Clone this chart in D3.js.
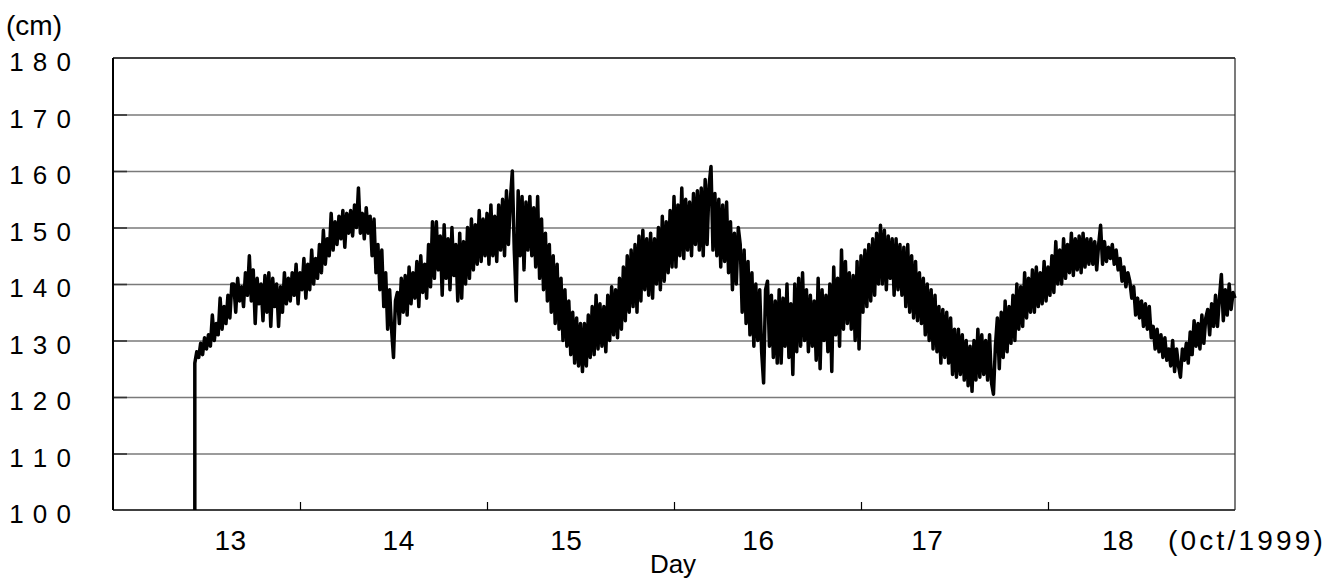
<!DOCTYPE html>
<html>
<head>
<meta charset="utf-8">
<script src="https://cdn.jsdelivr.net/npm/d3@7"></script>
<style>
  html, body { margin: 0; padding: 0; background: #fff; }
  svg { display: block; font-family: "Liberation Sans", Arial, sans-serif; }
</style>
</head>
<body>
<svg id="chart" width="1341" height="587"></svg>
<script>
// Water level record, Oct 13-18 1999, quarter-hourly readings (cm)
const startTime = "1999-10-13 10:30";
const stepMinutes = 15;
const sensorStartLevel = 100;
const waterLevel = [
  126, 128, 127, 129.5, 127.5, 130.5, 128.5, 131, 129, 134.5, 130, 133, 131, 137.5, 132, 136, 133, 138, 134, 140,
  140, 135, 141, 137, 139.5, 136, 142, 138, 145, 137, 142.5, 133, 141, 136.5, 140, 133.5, 141.5, 135, 142, 132.5,
  141, 136, 140, 132.5, 139.5, 135, 142, 136.5, 141, 137, 142, 138, 143.5, 136.5, 142, 139, 144.5, 137.5, 143.5, 139,
  146, 140, 144.5, 141, 147, 142, 149.5, 143.5, 148, 145, 152.5, 146, 151, 147, 152, 148, 153, 146.5, 152.5, 149,
  153, 148.5, 154, 150, 157, 149, 152.5, 148, 153.5, 149, 152, 145, 151.5, 142, 147, 139, 146, 136, 142, 132,
  139, 132, 127, 137, 138.5, 133, 141, 135, 141.5, 134.5, 143, 136.5, 142, 137.5, 144, 136, 145, 138.5, 143.5, 137.5,
  147, 139.5, 151, 141, 151, 142.5, 148.5, 138, 150.5, 141, 148, 139, 150, 141.5, 147, 137, 149, 137.5, 147.5, 140,
  150, 141, 151.5, 142.5, 150.5, 143.5, 153, 144, 151.5, 145, 152.5, 143.5, 154, 145, 152, 144, 154, 146, 155, 145,
  156.5, 147, 155, 160, 146, 137, 156.5, 145, 155.5, 142.5, 154.5, 146, 155.5, 145, 153.5, 143, 155.5, 141, 151.5, 139,
  149, 137, 147, 135, 145, 133, 143.5, 132, 141, 130, 139, 129, 137, 127.5, 135, 126, 134, 125.5, 133, 124.5,
  133, 125.5, 134.5, 127, 136, 127.5, 138, 128.5, 136.5, 129, 136, 128, 138, 130, 139.5, 131, 139, 130.5, 141, 132,
  143, 133.5, 145, 135, 146, 136, 147, 135, 148.5, 137, 149.5, 139, 148, 138, 149, 137.5, 148, 140, 150, 139,
  152, 140.5, 151, 142, 153, 143, 155.5, 143, 154, 145, 157, 144.5, 155, 146, 154.5, 145, 156, 147, 156.5, 146,
  157, 145, 158.5, 147, 157.5, 160.8, 146, 156, 145, 155, 143, 154, 144, 154.5, 142, 151, 139, 149, 140, 150,
  147, 135, 146, 133, 144, 131, 142, 129, 140, 130, 139, 128, 122.5, 139, 140.5, 129, 138, 127, 137, 126,
  139, 126, 137.5, 129, 140, 127, 136.5, 124, 140, 128, 141, 129, 142, 130, 139, 128, 138, 129, 137, 126.5,
  141, 125, 139, 130, 138, 128, 140, 124.5, 143, 131, 141, 129, 146, 132, 144, 133, 142, 132, 141.5, 130,
  144, 128.5, 145, 135, 146, 136, 147, 137, 148, 138, 149, 140, 150.4, 140, 149.5, 139, 148.5, 141, 148, 138,
  148, 139, 147, 138, 146.5, 136, 147, 135, 145, 134, 144, 133.5, 142, 133, 141, 131, 140, 130, 139, 128.5,
  138, 128, 136, 126, 135.5, 127, 135, 126, 134, 124, 132, 123.5, 132, 124, 131, 123, 130, 122, 129, 121,
  130, 123, 132, 123.5, 131, 124, 130, 123, 131, 122.5, 120.5, 129, 134, 125, 135, 127, 137, 128, 136, 129.5,
  138, 130, 140, 132, 139.5, 132.5, 142, 134, 141, 135, 142.5, 135, 143, 136, 142, 136.5, 144, 137, 143, 138,
  145, 138.5, 147.5, 140, 146, 140, 148, 141, 147, 142, 149, 141.5, 148, 142.5, 148.5, 142, 149, 143, 148, 143.5,
  148, 143.5, 147.5, 142.5, 147, 150.4, 143.5, 147.5, 144, 146.5, 144.5, 147, 143.5, 146, 142.5, 144.5, 140.5, 143, 139.5, 142,
  140.5, 137.5, 139.5, 134.5, 137.5, 134, 137, 132.5, 136.5, 132, 136, 130.5, 132.5, 128.5, 132, 128, 131, 127, 130.5, 126.5,
  128.5, 125.5, 130, 124.5, 128.5, 125.5, 123.5, 128.5, 126.5, 129.5, 126, 131.5, 127.5, 133.5, 129, 133, 128.5, 134.5, 129.5, 134,
  135.5, 131, 136.5, 132.5, 138, 132.5, 137.5, 141.7, 133.5, 139, 134.5, 140, 135.5, 138.5, 137.5
];

// Axis definitions
const levelTicks = [100, 110, 120, 130, 140, 150, 160, 170, 180];
const dayBoundaries = ["1999-10-14 00:00", "1999-10-15 00:00", "1999-10-16 00:00",
                       "1999-10-17 00:00", "1999-10-18 00:00"];
const dayLabels = ["13", "14", "15", "16", "17", "18"];
const dayLabelTimes = ["1999-10-13 15:05", "1999-10-14 12:40", "1999-10-15 10:10",
                       "1999-10-16 10:50", "1999-10-17 08:30", "1999-10-18 09:00"];
const xDomain = ["1999-10-13 00:00", "1999-10-19 00:00"];
const monthLabel = "(0ct/1999)";
const unitLabel = "(cm)";
const axisTitle = "Day";

const parse = d3.timeParse("%Y-%m-%d %H:%M");
const t0 = parse(startTime);
const series = [{ t: t0, v: sensorStartLevel }].concat(
  waterLevel.map((v, i) => ({ t: d3.timeMinute.offset(t0, i * stepMinutes), v }))
);

const svg = d3.select("#chart");
const plot = { left: 113, top: 58, right: 1235, bottom: 510 };

const x = d3.scaleTime()
  .domain(xDomain.map(parse))
  .range([plot.left, plot.right]);
const y = d3.scaleLinear()
  .domain([100, 180])
  .range([plot.bottom, plot.top]);

// Horizontal gridlines
svg.append("g")
  .attr("transform", `translate(${plot.left},0)`)
  .call(d3.axisLeft(y).tickValues(levelTicks.slice(1, -1))
    .tickSize(-(plot.right - plot.left)).tickFormat(""))
  .call(g => g.select(".domain").remove())
  .call(g => g.selectAll("line").attr("stroke", "#7a7a7a").attr("stroke-width", 1.4));

// Short inward ticks on the left axis
svg.append("g")
  .attr("transform", `translate(${plot.left},0)`)
  .call(d3.axisRight(y).tickValues(levelTicks.slice(1, -1)).tickSize(14).tickFormat(""))
  .call(g => g.select(".domain").remove())
  .call(g => g.selectAll("line").attr("stroke", "#333").attr("stroke-width", 1.6));

// Y tick labels, digits spaced out
svg.append("g")
  .selectAll("text")
  .data(levelTicks)
  .join("text")
  .attr("x", 72)
  .attr("y", d => y(d) + 13)
  .attr("text-anchor", "end")
  .attr("font-size", 26)
  .attr("fill", "#000")
  .attr("letter-spacing", "1px")
  .text(d => String(d).split("").join(" "));

svg.append("text")
  .attr("x", 6).attr("y", 35)
  .attr("font-size", 28)
  .attr("fill", "#000")
  .text(unitLabel);

// Day boundary ticks, pointing up into the plot
svg.append("g")
  .attr("transform", `translate(0,${plot.bottom})`)
  .call(d3.axisTop(x).tickValues(dayBoundaries.map(parse)).tickSize(8).tickFormat(""))
  .call(g => g.select(".domain").remove())
  .call(g => g.selectAll("line").attr("stroke", "#000").attr("stroke-width", 1.2));

// Day labels
svg.append("g")
  .selectAll("text")
  .data(dayLabels)
  .join("text")
  .attr("x", (d, i) => x(parse(dayLabelTimes[i])))
  .attr("y", 550)
  .attr("text-anchor", "middle")
  .attr("font-size", 28)
  .attr("letter-spacing", "0.5px")
  .attr("fill", "#000")
  .text(d => d);

svg.append("text")
  .attr("x", 1168).attr("y", 550)
  .attr("font-size", 28)
  .attr("letter-spacing", "3.2px")
  .attr("fill", "#000")
  .text(monthLabel);

svg.append("text")
  .attr("x", 673).attr("y", 573)
  .attr("text-anchor", "middle")
  .attr("font-size", 26)
  .attr("fill", "#000")
  .text(axisTitle);

// Plot frame
svg.append("line")
  .attr("x1", plot.left).attr("x2", plot.right)
  .attr("y1", y(180)).attr("y2", y(180))
  .attr("stroke", "#000").attr("stroke-width", 1.6);
svg.append("line")
  .attr("x1", plot.left).attr("x2", plot.right)
  .attr("y1", y(100)).attr("y2", y(100))
  .attr("stroke", "#000").attr("stroke-width", 1.6);
svg.append("line")
  .attr("x1", plot.left).attr("x2", plot.left)
  .attr("y1", y(180)).attr("y2", y(100))
  .attr("stroke", "#000").attr("stroke-width", 2);
svg.append("line")
  .attr("x1", plot.right).attr("x2", plot.right)
  .attr("y1", y(180)).attr("y2", y(100))
  .attr("stroke", "#222").attr("stroke-width", 1.2);

// Water level trace
const line = d3.line()
  .x(d => x(d.t))
  .y(d => y(d.v));

svg.append("path")
  .datum(series)
  .attr("d", line)
  .attr("fill", "none")
  .attr("stroke", "#000")
  .attr("stroke-width", 3.5)
  .attr("stroke-linejoin", "round")
  .attr("stroke-linecap", "butt");
</script>
</body>
</html>
